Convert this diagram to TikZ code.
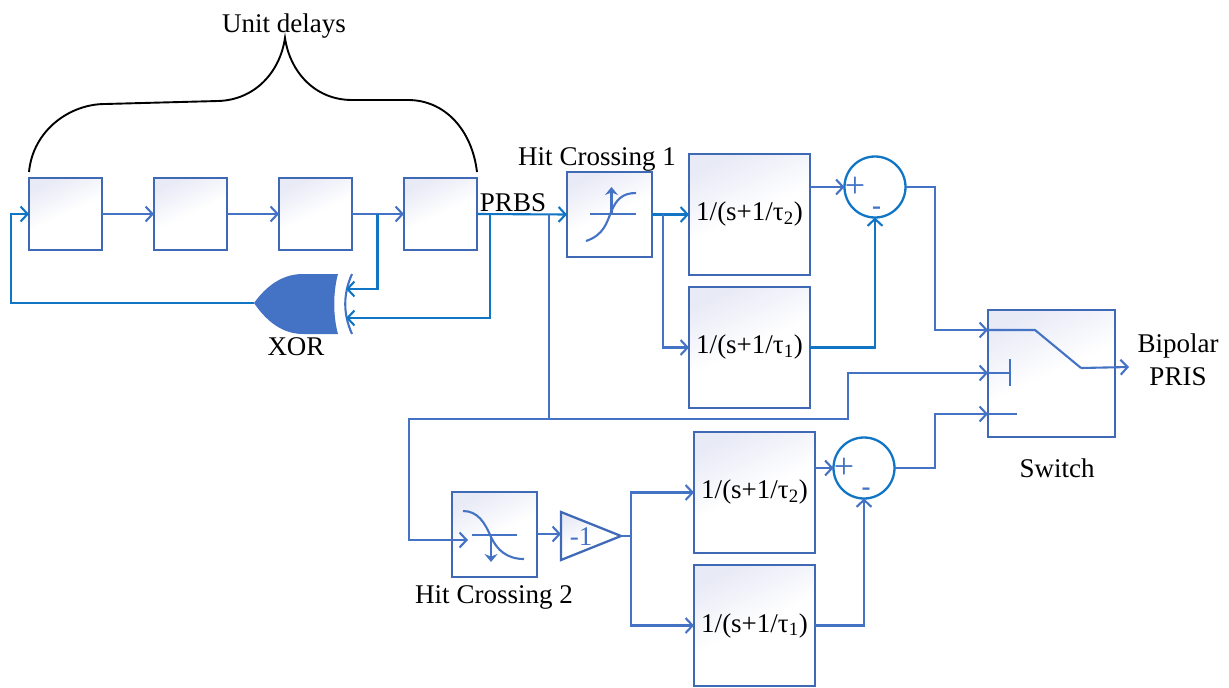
\documentclass[tikz,border=0pt]{standalone}
\usepackage{fontspec}
\setmainfont{Liberation Serif}
\usetikzlibrary{arrows.meta}
\definecolor{edgeblue}{HTML}{3F68B5}
\definecolor{linkblue}{HTML}{4472C4}
\definecolor{strongblue}{HTML}{0F75C4}
\definecolor{fadeblue}{HTML}{E8EAF6}
\newcommand{\lblfont}{\fontsize{27}{33}\selectfont}
\newcommand{\signfont}{\fontsize{36}{36}\selectfont}
\newcommand{\tf}[1]{1/(s+1/τ\textsubscript{#1})}
\tikzset{
  x=1pt,y=-1pt,
  blockbox/.style={draw=edgeblue,line width=2.3pt,inner sep=0pt,outer sep=0pt,
    top color=fadeblue,bottom color=white,middle color=white,shading angle=25,
    text=black,font=\lblfont},
  delaybox/.style={blockbox,minimum width=73pt,minimum height=72pt},
  hitbox/.style={blockbox,minimum width=85pt,minimum height=85pt},
  tfbox/.style={blockbox,minimum width=121pt,minimum height=121pt},
  sumcircle/.style={circle,draw=strongblue,line width=2.3pt,minimum size=61pt,inner sep=0pt,outer sep=0pt},
  lbl/.style={font=\lblfont,text=black,inner sep=0pt,align=center},
  signlbl/.style={font=\signfont,text=linkblue,inner sep=0pt},
  minuslbl/.style={font=\lblfont\bfseries,text=linkblue,inner sep=0pt},
  wire/.style={draw=linkblue,line width=2.1pt},
  strongwire/.style={draw=strongblue,line width=2.1pt},
  conn/.style={wire,-{Straight Barb[length=7pt,width=15pt,line width=2.1pt]}},
  strongconn/.style={strongwire,-{Straight Barb[length=7pt,width=15pt,line width=2.1pt]}},
  icon/.style={draw=linkblue,line width=2.1pt},
}
\begin{document}
\begin{tikzpicture}
\useasboundingbox (0,0) rectangle (1229,688);
% blocks
\node[delaybox] (d1) at (65.5,214) {};
\node[delaybox] (d2) at (190.5,214) {};
\node[delaybox] (d3) at (315.5,214) {};
\node[delaybox] (d4) at (440.5,214) {};
\node[hitbox] (h1) at (609.5,214.5) {};
\node[hitbox] (h2) at (494.5,534.5) {};
\node[tfbox] (a2) at (749.5,214.5) {\tf{2}};
\node[tfbox] (a1) at (749.5,347.5) {\tf{1}};
\node[tfbox] (b2) at (754.5,492.5) {\tf{2}};
\node[tfbox] (b1) at (754.5,625.5) {\tf{1}};
\node[sumcircle] (s1) at (875,187) {};
\node[sumcircle] (s2) at (864,468) {};
\node[blockbox,minimum width=127pt,minimum height=127pt] (sw) at (1051.5,373.5) {};
% gain triangle
\path[draw=edgeblue,line width=2.3pt,top color=fadeblue,bottom color=white,middle color=white,shading angle=25]
  (561,512) -- (621,536) -- (561,560) -- cycle;
\coordinate (gainin) at (561,534);
\coordinate (gainout) at (621,536);
\node[font=\lblfont,text=linkblue,inner sep=0pt] (gainlbl) at (581,537) {-1};
% XOR gate
\fill[linkblue] (303,274) -- (338,274) .. controls (333,292) and (333,316) .. (338,334)
  -- (303,334) .. controls (283,334) and (267,322) .. (254,303)
  .. controls (267,285) and (283,274) .. (303,274) -- cycle;
\draw[wire] (352,274) .. controls (343,294) and (343,314) .. (352,334);
\coordinate (xorout) at (254,303);
\coordinate (xora) at (346,289);
\coordinate (xorb) at (346,318);
% delay chain
\coordinate (fbl) at (11,303);
\draw[strongconn] (xorout) -- (fbl) -- (fbl |- d1.west) -- (d1.west);
\draw[conn] (d1.east) -- (d2.west);
\draw[conn] (d2.east) -- (d3.west);
\draw[conn] (d3.east) -- (d4.west);
\coordinate (tap3) at (377.5,214);
\coordinate (tap4) at (490,214);
\draw[strongconn] (tap3) -- (tap3 |- xora) -- (xora);
\draw[strongconn] (tap4) -- (tap4 |- xorb) -- (xorb);
% PRBS and branches
\draw[strongconn] (d4.east) -- (h1.west);
\coordinate (tapp) at (549,214);
\coordinate (tapq) at (549,419);
\coordinate (leftdown) at (409,419);
\coordinate (ctrlup) at (848,419);
\coordinate (hit2in) at (468,540);
\coordinate (swmid) at (988,373);
\coordinate (swtop) at (988,330);
\coordinate (swbot) at (988,414);
\draw[wire] (tapp) -- (tapq);
\draw[conn] (tapq) -- (leftdown) -- (leftdown |- hit2in) -- (hit2in);
\draw[conn] (tapq) -- (ctrlup) -- (ctrlup |- swmid) -- (swmid);
% first branch
\coordinate (tap5) at (663,214);
\draw[strongconn] (h1.east) -- (a2.west);
\draw[conn] (tap5) -- (tap5 |- a1.west) -- (a1.west);
\draw[conn] (a2.east |- s1.west) -- (s1.west);
\draw[strongconn] (a1.east) -- (s1.south |- a1.east) -- (s1.south);
\coordinate (col) at (935,187);
\draw[conn] (s1.east) -- (col) -- (col |- swtop) -- (swtop);
% second branch
\coordinate (tap6) at (631,536);
\draw[conn] (h2.east |- gainin) -- (gainin);
\draw[wire] (gainout) -- (tap6);
\draw[conn] (tap6) -- (tap6 |- b2.west) -- (b2.west);
\draw[conn] (tap6) -- (tap6 |- b1.west) -- (b1.west);
\draw[conn] (b2.east |- s2.west) -- (s2.west);
\draw[conn] (b1.east) -- (s2.south |- b1.east) -- (s2.south);
\draw[conn] (s2.east) -- (col |- s2.east) -- (col |- swbot) -- (swbot);
% switch icon
\coordinate (swa) at (1035,330);
\coordinate (swb) at (1081,368);
\coordinate (swout) at (1129,367);
\draw[wire] (swtop) -- (swa) -- (swb);
\draw[conn] (swb) -- (swout);
\draw[wire] (swmid) -- (1010,373);
\draw[wire] (1010,359) -- (1010,386);
\draw[wire] (swbot) -- (1017,414);
% hit crossing icons
\draw[icon] (590,214) -- (636,214);
\draw[icon,-{Stealth[length=8pt,width=13pt]}] (611.5,214) -- (611.5,187);
\draw[icon] (586,241) .. controls (604,235) and (607,222) .. (611,212)
  .. controls (616,200) and (622,193) .. (636,193);
\draw[icon] (472,535) -- (517,535);
\draw[icon,-{Stealth[length=8pt,width=13pt]}] (491,535) -- (491,562);
\draw[icon] (463,511) .. controls (478,511) and (485,523) .. (491,537)
  .. controls (497,550) and (507,559) .. (524,559);
% signs
\node[signlbl] (p1) at (855,187) {+};
\node[minuslbl] (m1) at (876.5,211) {-};
\node[signlbl] (p2) at (844,468) {+};
\node[minuslbl] (m2) at (866,492) {-};
% brace
\draw[black,line width=1.9pt] (29,172) .. controls (33,130) and (70,104) .. (105,104)
  -- (218,101) .. controls (255,100) and (280,72) .. (285,38)
  .. controls (290,72) and (315,100) .. (352,100)
  -- (408,100) .. controls (445,100) and (472,130) .. (477,172);
% labels
\node[lbl] (unit) at (284,26) {Unit delays};
\node[lbl] (hc1) at (597,159) {Hit Crossing 1};
\node[lbl] (prbs) at (513,203) {PRBS};
\node[lbl] (xorlbl) at (296,347) {XOR};
\node[lbl] (hc2) at (494,597) {Hit Crossing 2};
\node[lbl] (swlbl) at (1057,468) {Switch};
\node[lbl] (bip) at (1178,360) {Bipolar\\PRIS};
\end{tikzpicture}
\end{document}
